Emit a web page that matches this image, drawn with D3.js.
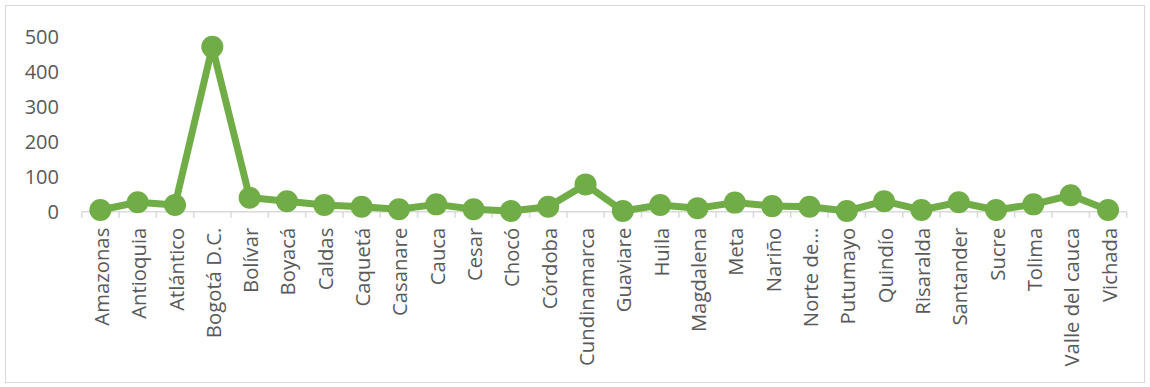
<!DOCTYPE html>
<html>
<head>
<meta charset="utf-8">
<script src="https://cdn.jsdelivr.net/npm/d3@7"></script>
<style>
  body { margin: 0; background: #fff; }
  svg text { font-family: "Open Sans", sans-serif; fill: #595959; }
</style>
</head>
<body>
<div id="chart"></div>
<script>
// departamentos y valores
const departamentos = [
  "Amazonas", "Antioquia", "Atlántico", "Bogotá D.C.", "Bolívar", "Boyacá",
  "Caldas", "Caquetá", "Casanare", "Cauca", "Cesar", "Chocó", "Córdoba",
  "Cundinamarca", "Guaviare", "Huila", "Magdalena", "Meta", "Nariño",
  "Norte de...", "Putumayo", "Quindío", "Risaralda", "Santander", "Sucre",
  "Tolima", "Valle del cauca", "Vichada"
];
const valores = [
  5, 27, 19, 471, 40, 30,
  19, 14, 7, 21, 7, 2, 14,
  78, 2, 19, 10, 26, 16,
  14, 2, 30, 5, 27, 5,
  21, 47, 5
];
const yTicks = [0, 100, 200, 300, 400, 500];

const width = 1150, height = 387;
const margin = { left: 81.7, right: 23.3, top: 36.7, bottom: 175.3 };

const svg = d3.select('#chart').append('svg')
  .attr('width', width)
  .attr('height', height);

// borde del grafico
svg.append('rect')
  .attr('x', 5.5).attr('y', 5.5)
  .attr('width', width - 11).attr('height', height - 10)
  .attr('fill', 'none')
  .attr('stroke', '#d9d9d9')
  .attr('stroke-width', 1);

const x = d3.scaleBand()
  .domain(departamentos)
  .range([margin.left, width - margin.right]);

const y = d3.scaleLinear()
  .domain([0, 500])
  .range([height - margin.bottom, margin.top]);

const base = y(0);

// eje x: linea + marcas entre categorias
svg.append('line')
  .attr('x1', x.range()[0]).attr('x2', x.range()[1])
  .attr('y1', base).attr('y2', base)
  .attr('stroke', '#d9d9d9').attr('stroke-width', 1.5);

const bounds = departamentos.map(d => x(d)).concat([x.range()[1]]);
svg.selectAll('.tick-x')
  .data(bounds)
  .enter().append('line')
  .attr('x1', d => d).attr('x2', d => d)
  .attr('y1', base).attr('y2', base + 6)
  .attr('stroke', '#d9d9d9').attr('stroke-width', 1.5);

svg.selectAll('.lbl-x')
  .data(departamentos)
  .enter().append('text')
  .attr('transform', d => 'translate(' + (x(d) + x.bandwidth() / 2 + 8.5) + ',' + (base + 16) + ') rotate(-90)')
  .attr('text-anchor', 'end')
  .style('font-size', '20.3px')
  .text(d => d);

// eje y: solo etiquetas
svg.selectAll('.lbl-y')
  .data(yTicks)
  .enter().append('text')
  .attr('x', 59)
  .attr('y', d => y(d) + 7)
  .attr('text-anchor', 'end')
  .style('font-size', '20px')
  .text(d => d);

// serie
const line = d3.line()
  .x((d, i) => x(departamentos[i]) + x.bandwidth() / 2)
  .y(d => y(d));

svg.append('path')
  .datum(valores)
  .attr('d', line)
  .attr('fill', 'none')
  .attr('stroke', '#70ad47')
  .attr('stroke-width', 7)
  .attr('stroke-linejoin', 'round');

svg.selectAll('.pt')
  .data(valores)
  .enter().append('circle')
  .attr('cx', (d, i) => x(departamentos[i]) + x.bandwidth() / 2)
  .attr('cy', d => y(d))
  .attr('r', 11)
  .attr('fill', '#70ad47');
</script>
</body>
</html>
